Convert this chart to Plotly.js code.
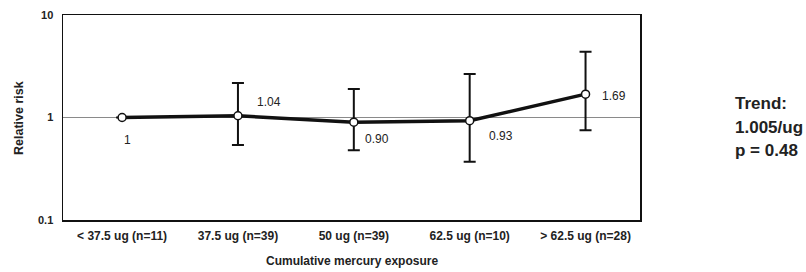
<!DOCTYPE html>
<html><head><meta charset="utf-8">
<script src="https://cdn.plot.ly/plotly-3.0.1.min.js"></script>
<style>html,body{margin:0;padding:0;background:#fff}#chart{width:806px;height:272px}</style>
</head><body><div id="chart"></div>
<script>
const categories = ["< 37.5 ug (n=11)", "37.5 ug (n=39)", "50 ug (n=39)", "62.5 ug (n=10)", "> 62.5 ug (n=28)"];
const relativeRisk = [1, 1.04, 0.90, 0.93, 1.69];
const upperCI = [1, 2.17, 1.90, 2.66, 4.38];
const lowerCI = [1, 0.54, 0.48, 0.37, 0.75];
const valueLabels = ["1", "1.04", "0.90", "0.93", "1.69"];
const trendLines = ["Trend:", "1.005/ug", "p = 0.48"];

const idx = categories.map((c, i) => i);
const errPlus = upperCI.map((u, i) => u - relativeRisk[i]);
const errMinus = lowerCI.map((l, i) => relativeRisk[i] - l);

const FONT = "Liberation Sans, Arial, sans-serif";
const PL = 63, PR = 640, PT = 15, PB = 220, PW = PR - PL, PH = PB - PT;

const traces = [
  {x: [-0.6, 4.6], y: [1, 1], mode: "lines", line: {color: "#8a8a8a", width: 1}, hoverinfo: "skip", showlegend: false},
  {x: idx, y: relativeRisk, mode: "lines+markers",
   line: {color: "#111", width: 3.5},
   marker: {symbol: "circle", size: 8, color: "#fff", line: {color: "#111", width: 1.5}},
   error_y: {type: "data", symmetric: false, array: errPlus, arrayminus: errMinus, color: "#111", thickness: 2, width: 6},
   showlegend: false}
];

// label offsets: [xshift px, yshift px (up positive), anchor]
const labelPos = [[5, -22, "center"], [17, 14, "left"], [9, -17, "left"], [17, -15, "left"], [14, -2, "left"]];
const annotations = valueLabels.map((t, i) => ({
  x: i, y: Math.log10(relativeRisk[i]), xref: "x", yref: "y", text: t, showarrow: false,
  xanchor: labelPos[i][2], yanchor: "middle", xshift: labelPos[i][0], yshift: labelPos[i][1],
  font: {family: FONT, size: 12, color: "#222"}
}));
annotations.push({x: 0.5, y: -(261 - PB) / PH, xref: "paper", yref: "paper", text: "<b>Cumulative mercury exposure</b>",
  showarrow: false, xanchor: "center", yanchor: "middle", font: {family: FONT, size: 12, color: "#222"}});
annotations.push({x: -(PL - 19) / PW, y: (PB - 118) / PH, xref: "paper", yref: "paper", text: "<b>Relative risk</b>", showarrow: false,
  textangle: -90, xanchor: "center", yanchor: "middle", font: {family: FONT, size: 12.5, color: "#222"}});
trendLines.forEach((t, i) => annotations.push({
  x: (733 - PL) / PW, y: (PB - (103 + i * 24)) / PH, xref: "paper", yref: "paper", text: "<b>" + t + "</b>",
  showarrow: false, xanchor: "left", yanchor: "middle", font: {family: FONT, size: 17, color: "#222"}
}));

const layout = {
  width: 806, height: 272,
  margin: {l: PL, r: 806 - PR, t: PT, b: 272 - PB},
  paper_bgcolor: "#fff", plot_bgcolor: "#fff",
  showlegend: false,
  xaxis: {range: [-0.51, 4.47], tickvals: idx, ticktext: categories, showgrid: false, zeroline: false,
    showline: true, mirror: true, linecolor: "#111", linewidth: 1.5, ticks: "",
    tickfont: {family: FONT, size: 12, color: "#222", weight: "bold"}, ticklabelstandoff: 4},
  yaxis: {type: "log", range: [-1, 1], tickvals: [0.1, 1, 10], ticktext: ["0.1", "1", "10"], showgrid: false, zeroline: false,
    showline: true, mirror: true, linecolor: "#111", linewidth: 1.5, ticks: "",
    tickfont: {family: FONT, size: 11, color: "#222", weight: "bold"}, ticklabelstandoff: 6},
  annotations: annotations
};

Plotly.newPlot("chart", traces, layout, {displayModeBar: false, staticPlot: true});
</script></body></html>
